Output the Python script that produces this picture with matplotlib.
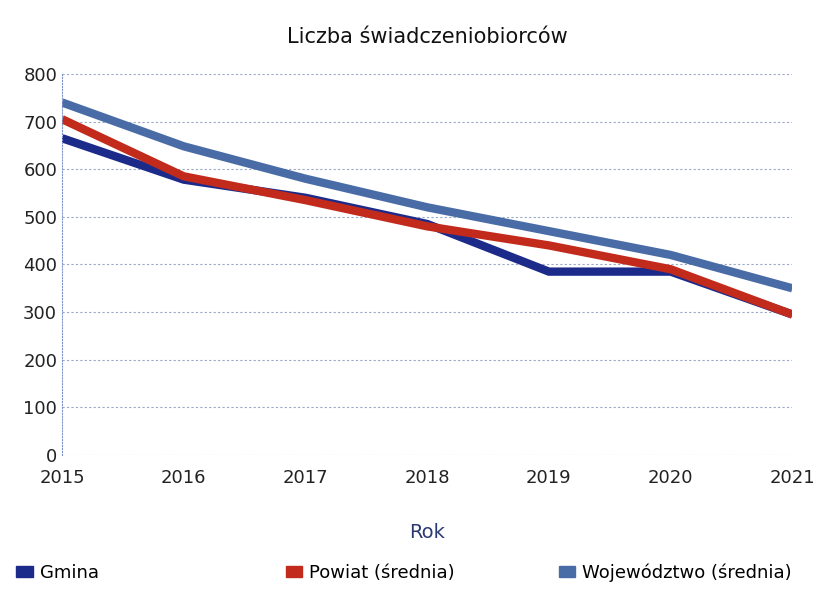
import matplotlib.pyplot as plt
from matplotlib.patches import Patch

years = [2015, 2016, 2017, 2018, 2019, 2020, 2021]
gmina = [665, 578, 540, 485, 385, 385, 295]
powiat = [705, 585, 535, 480, 440, 390, 295]
wojewodztwo = [740, 648, 580, 520, 470, 420, 350]

series_names = ['Gmina', 'Powiat (średnia)', 'Województwo (średnia)']
colors = ['#1c2a8a', '#c22a1c', '#4a6ca6']
legend_x = [0.0, 0.33, 0.665]

fig = plt.figure(figsize=(8.16, 5.91), dpi=100)
ax = fig.add_axes([0.076, 0.23, 0.895, 0.645])

for vals, c in zip([gmina, powiat, wojewodztwo], colors):
    ax.plot(years, vals, color=c, linewidth=6, solid_capstyle='butt', solid_joinstyle='miter')

ax.set_xlim(2015, 2021)
ax.set_ylim(0, 800)
ax.set_yticks(range(0, 801, 100))
ax.set_xticks(years)
ax.grid(axis='y', color='#9aa8c8', linestyle=(0, (2, 2)), linewidth=0.8)
for s in ['top', 'right', 'bottom']:
    ax.spines[s].set_visible(False)
ax.spines['left'].set_color('#7f93c8')
ax.spines['left'].set_linestyle(':')
ax.tick_params(length=0, labelsize=13, colors='#222222')
ax.tick_params(axis='x', pad=10)
ax.set_xlabel('Rok', fontsize=14, color='#2c3a73', labelpad=26)
ax.set_title('Liczba świadczeniobiorców', fontsize=15, pad=22, color='#111111')

# each legend entry placed separately, as in the original
for name, c, lx in zip(series_names, colors, legend_x):
    fig.legend([Patch(facecolor=c, edgecolor=c)], [name], loc='lower left',
               bbox_to_anchor=(lx, -0.012), frameon=False, fontsize=13,
               handlelength=0.9, handleheight=0.6, handletextpad=0.4)

fig.savefig('out.png', dpi=100)
